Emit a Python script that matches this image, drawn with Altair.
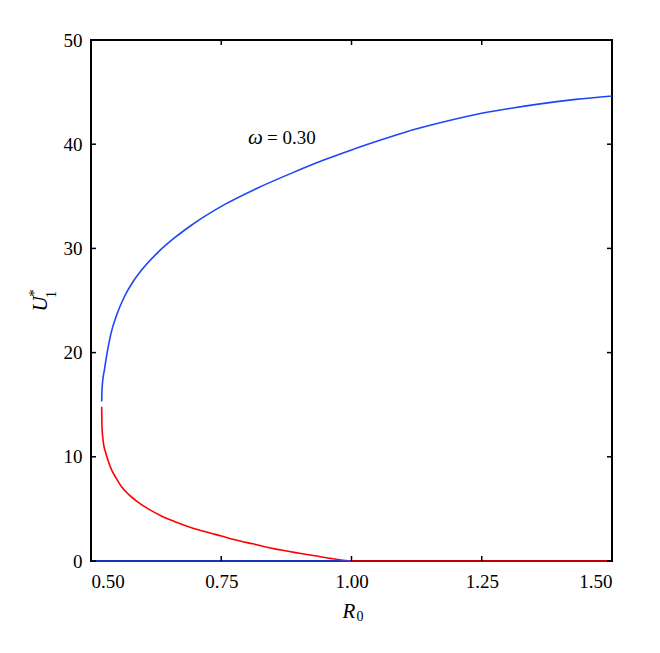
import altair as alt
import pandas as pd

# ---- data ----
upper_R = [0.5205, 0.5210, 0.5225, 0.5256, 0.531, 0.5384, 0.550, 0.564, 0.580, 0.596, 0.628, 0.660, 0.692,
           0.756, 0.820, 0.884, 0.948, 1.000, 1.050, 1.106, 1.170, 1.234, 1.300, 1.362, 1.430, 1.500]
upper_U = [15.3, 16.3, 17.3, 18.3, 20.0, 21.85, 23.7, 25.36, 26.75, 27.85, 29.6, 31.0, 32.2,
           34.2, 35.8, 37.2, 38.5, 39.45, 40.3, 41.2, 42.05, 42.8, 43.4, 43.87, 44.3, 44.63]

lower_R = [0.5205, 0.5210, 0.5225, 0.5245, 0.527, 0.533, 0.540, 0.549, 0.559, 0.572, 0.585, 0.610, 0.636,
           0.660, 0.690, 0.720, 0.750, 0.780, 0.810, 0.840, 0.870, 0.900, 0.930, 0.960, 0.980, 1.000]
lower_U = [14.8, 13.0, 11.9, 11.1, 10.6, 9.6, 8.7, 7.9, 7.1, 6.4, 5.85, 5.0, 4.3,
           3.8, 3.25, 2.8, 2.4, 2.0, 1.65, 1.3, 1.0, 0.75, 0.5, 0.25, 0.1, 0.0]

zero_left_R = [0.5, 1.0]
zero_left_U = [0.0, 0.0]
zero_right_R = [1.0, 1.5]
zero_right_U = [0.0, 0.0]

x_ticks = [0.5, 0.75, 1.0, 1.25, 1.5]
y_ticks = [0, 10, 20, 30, 40, 50]

series_names = ["upper", "lower", "zero_left", "zero_right"]
series_colors = ["#1f45fc", "#ff0000", "#1f45fc", "#ff0000"]

rows = []
for name, rs, us in [("upper", upper_R, upper_U), ("lower", lower_R, lower_U),
                     ("zero_left", zero_left_R, zero_left_U), ("zero_right", zero_right_R, zero_right_U)]:
    for r, u in zip(rs, us):
        rows.append({"series": name, "R": r, "U": u})
df = pd.DataFrame(rows)

W, H = 521, 521
FONT = "Liberation Serif"

xscale = alt.Scale(domain=[0.5, 1.5], nice=False, zero=False)
yscale = alt.Scale(domain=[0, 50], nice=False, zero=False)

lines = alt.Chart(df).mark_line(strokeWidth=1.6, clip=False, interpolate="monotone").encode(
    x=alt.X("R:Q", scale=xscale,
            axis=alt.Axis(values=x_ticks, format=".2f", tickSize=0, domain=False, grid=False,
                          labelFont=FONT, labelFontSize=19, labelColor="black", labelPadding=11,
                          title=None)),
    y=alt.Y("U:Q", scale=yscale,
            axis=alt.Axis(values=y_ticks, format="d", tickSize=0, domain=False, grid=False,
                          labelFont=FONT, labelFontSize=19, labelColor="black", labelPadding=9,
                          title=None)),
    color=alt.Color("series:N", scale=alt.Scale(domain=series_names, range=series_colors), legend=None),
    detail="series:N",
)

xt_df = pd.DataFrame({"v": x_ticks})
yt_df = pd.DataFrame({"v": y_ticks})
TL = 5
tick_style = dict(color="black", strokeWidth=1.5)
bottom_ticks = alt.Chart(xt_df).mark_rule(**tick_style).encode(
    x=alt.X("v:Q", scale=xscale), y=alt.value(H), y2=alt.value(H - TL))
top_ticks = alt.Chart(xt_df).mark_rule(**tick_style).encode(
    x=alt.X("v:Q", scale=xscale), y=alt.value(0), y2=alt.value(TL))
left_ticks = alt.Chart(yt_df).mark_rule(**tick_style).encode(
    y=alt.Y("v:Q", scale=yscale), x=alt.value(0), x2=alt.value(TL))
right_ticks = alt.Chart(yt_df).mark_rule(**tick_style).encode(
    y=alt.Y("v:Q", scale=yscale), x=alt.value(W - TL), x2=alt.value(W))

def txt(s, x, y, size, italic=False, angle=0, align="center"):
    kw = dict(text=s, font=FONT, fontSize=size, color="black", align=align, baseline="middle")
    if italic:
        kw["fontStyle"] = "italic"
    if angle:
        kw["angle"] = angle
    return alt.Chart(pd.DataFrame({"a": [0]})).mark_text(**kw).encode(x=alt.value(x), y=alt.value(y))

labels = [
    txt("ω", 157, 98, 21, italic=True, align="left"),
    txt("= 0.30", 176, 98, 19, align="left"),
    txt("R", 258, 572, 21, italic=True),
    txt("0", 269, 577, 14),
    txt("U", -50, 264, 21, italic=True, angle=270),
    txt("*", -57, 253, 15, angle=270),
    txt("1", -39.5, 254.5, 14, angle=270),
]

chart = alt.layer(lines, bottom_ticks, top_ticks, left_ticks, right_ticks, *labels).properties(
    width=W, height=H,
    autosize=alt.AutoSizeParams(type="none"),
    padding={"left": 83, "top": 32, "right": 40, "bottom": 84},
).configure(background="white").configure_view(stroke="black", strokeWidth=2)

chart.save("out.html", embed_options={"renderer": "svg", "actions": False})
